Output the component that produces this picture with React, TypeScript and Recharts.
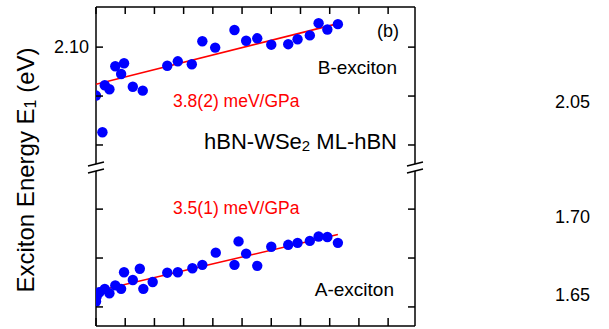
import { ComposedChart, Scatter, XAxis, YAxis } from "recharts"

// B-exciton (upper panel)
const pressureB = [0.0, 0.11, 0.15, 0.23, 0.33, 0.43, 0.48, 0.63, 0.8, 1.22, 1.4, 1.64, 1.82, 2.04, 2.37, 2.57, 2.76, 3.0, 3.29, 3.45, 3.66, 3.81, 3.96, 4.14]
const energyB = [2.0901, 2.0826, 2.0922, 2.0914, 2.0961, 2.0945, 2.0967, 2.0919, 2.0911, 2.0962, 2.0971, 2.0965, 2.1012, 2.0999, 2.1035, 2.1013, 2.1018, 2.1005, 2.1006, 2.1016, 2.1024, 2.1049, 2.1036, 2.1047]

// A-exciton (lower panel)
const pressureA = [0.0, 0.01, 0.06, 0.15, 0.23, 0.33, 0.43, 0.48, 0.63, 0.75, 0.81, 0.97, 1.22, 1.4, 1.65, 1.82, 2.05, 2.37, 2.44, 2.57, 2.76, 3.0, 3.29, 3.45, 3.66, 3.81, 3.96, 4.14]
const energyA = [1.6611, 1.6621, 1.663, 1.6637, 1.6628, 1.6644, 1.6637, 1.6671, 1.6655, 1.6678, 1.6637, 1.6651, 1.667, 1.6671, 1.6679, 1.6686, 1.6711, 1.6686, 1.6734, 1.6709, 1.6684, 1.6723, 1.6727, 1.6731, 1.6735, 1.6744, 1.6743, 1.6731]

// linear fits
const fitPressure = [0, 4.14]
const fitB = [2.0924, 2.1048]
const fitA = [1.6632, 1.6748]

// axes
const xTicks = [0, 0.5, 1, 1.5, 2, 2.5, 3, 3.5, 4, 4.5, 5]
const yTicksB = [2.08, 2.09, 2.1]
const yTicksA = [1.66, 1.67, 1.68]
const labeledTicks = [2.1]
const rightLabels = ["2.05", "1.70", "1.65"]

const FONT = "'Liberation Sans', Arial, Helvetica, sans-serif"
const BLUE = "#0000ff"
const RED = "#ff0000"

const toPoints = (xs: number[], ys: number[]) => xs.map((x, i) => ({ x, y: ys[i] }))

const Dot = (props: any) => <circle cx={props.cx} cy={props.cy} r={5.2} fill={BLUE} />
const NoDot = () => <g />

const LeftTick = (props: any) => {
  const { x, y, payload } = props
  const v = payload.value
  return (
    <g>
      <line x1={x} y1={y} x2={x + 7} y2={y} stroke="#000" strokeWidth={1.5} />
      {labeledTicks.includes(v) && (
        <text x={x - 7} y={y} textAnchor="end" dominantBaseline="central" fontSize={18} fontFamily={FONT} fill="#000">
          {v.toFixed(2)}
        </text>
      )}
    </g>
  )
}

const RightTick = (props: any) => {
  const { x, y } = props
  return <line x1={x - 7} y1={y} x2={x} y2={y} stroke="#000" strokeWidth={1.5} />
}

const TopTick = (props: any) => {
  const { x, y } = props
  return <line x1={x} y1={y} x2={x} y2={y + 7} stroke="#000" strokeWidth={1.5} />
}

const BottomTick = (props: any) => {
  const { x, y } = props
  return <line x1={x} y1={y - 8} x2={x} y2={y} stroke="#000" strokeWidth={1.5} />
}

const axisLine = { stroke: "#000", strokeWidth: 1.5 }

function Panel(props: {
  height: number
  margin: any
  domain: [number, number]
  ticks: number[]
  px: number[]
  py: number[]
  fit: number[]
  top: boolean
}) {
  return (
    <ComposedChart width={609} height={props.height} margin={props.margin}>
      <XAxis
        dataKey="x"
        type="number"
        orientation={props.top ? "top" : "bottom"}
        height={props.top ? 4 : 2}
        domain={[0, 5.46]}
        allowDataOverflow
        ticks={xTicks}
        interval={0}
        tickSize={0}
        tickMargin={0}
        axisLine={axisLine}
        tickLine={false}
        tick={props.top ? TopTick : BottomTick}
      />
      <YAxis
        yAxisId="l"
        dataKey="y"
        type="number"
        width={96}
        domain={props.domain}
        allowDataOverflow
        ticks={props.ticks}
        interval={0}
        tickSize={0}
        tickMargin={0}
        axisLine={axisLine}
        tickLine={false}
        tick={LeftTick}
      />
      <YAxis
        yAxisId="r"
        orientation="right"
        type="number"
        width={20}
        domain={props.domain}
        allowDataOverflow
        ticks={props.ticks}
        interval={0}
        tickSize={0}
        tickMargin={0}
        axisLine={axisLine}
        tickLine={false}
        tick={RightTick}
      />
      <Scatter
        yAxisId="l"
        data={toPoints(fitPressure, props.fit)}
        line={{ stroke: RED, strokeWidth: 1.6 }}
        shape={NoDot}
        isAnimationActive={false}
      />
      <Scatter yAxisId="l" data={toPoints(props.px, props.py)} shape={Dot} isAnimationActive={false} />
    </ComposedChart>
  )
}

function BreakMark({ x }: { x: number }) {
  return (
    <g>
      <polygon points={`${x - 4},${165} ${x + 4},${163} ${x + 4},${170} ${x - 4},${172}`} fill="#fff" />
      <line x1={x - 8} y1={166} x2={x + 8} y2={162} stroke="#000" strokeWidth={1.3} />
      <line x1={x - 8} y1={173} x2={x + 8} y2={169} stroke="#000" strokeWidth={1.3} />
    </g>
  )
}

const rightLabelY = [102, 217, 295]

export default function App() {
  return (
    <div style={{ position: "absolute", left: 0, top: 0, width: 609, height: 329, background: "#fff", overflow: "hidden" }}>
      <div style={{ position: "absolute", left: 0, top: 0 }}>
        <Panel
          height={168}
          margin={{ top: 3, right: 174, bottom: 1, left: 0 }}
          domain={[2.0755, 2.1082]}
          ticks={yTicksB}
          px={pressureB}
          py={energyB}
          fit={fitB}
          top
        />
      </div>
      <div style={{ position: "absolute", left: 0, top: 168 }}>
        <Panel
          height={161}
          margin={{ top: 2, right: 174, bottom: 1, left: 0 }}
          domain={[1.6561, 1.688]}
          ticks={yTicksA}
          px={pressureA}
          py={energyA}
          fit={fitA}
          top={false}
        />
      </div>
      <svg width={609} height={329} style={{ position: "absolute", left: 0, top: 0, pointerEvents: "none" }} fontFamily={FONT}>
        <BreakMark x={96} />
        <BreakMark x={415} />
        <text transform="translate(25,170) rotate(-90)" textAnchor="middle" dominantBaseline="central" fontSize={24} fill="#000">
          Exciton Energy E<tspan fontSize={16} dy={5}>1</tspan>
          <tspan dy={-5}> (eV)</tspan>
        </text>
        <text x={377} y={31} dominantBaseline="central" fontSize={18} fill="#000">(b)</text>
        <text x={397} y={67} textAnchor="end" dominantBaseline="central" fontSize={19} fill="#000">B-exciton</text>
        <text x={173} y={101} dominantBaseline="central" fontSize={17.5} fill={RED}>3.8(2) meV/GPa</text>
        <text x={397} y={141} textAnchor="end" dominantBaseline="central" fontSize={22} fill="#000">
          hBN-WSe<tspan fontSize={15} dy={4}>2</tspan>
          <tspan dy={-4}> ML-hBN</tspan>
        </text>
        <text x={173} y={208} dominantBaseline="central" fontSize={17.5} fill={RED}>3.5(1) meV/GPa</text>
        <text x={394} y={289} textAnchor="end" dominantBaseline="central" fontSize={19} fill="#000">A-exciton</text>
        {rightLabels.map((t, i) => (
          <text key={t} x={555} y={rightLabelY[i]} dominantBaseline="central" fontSize={18} fill="#000">
            {t}
          </text>
        ))}
      </svg>
    </div>
  )
}
